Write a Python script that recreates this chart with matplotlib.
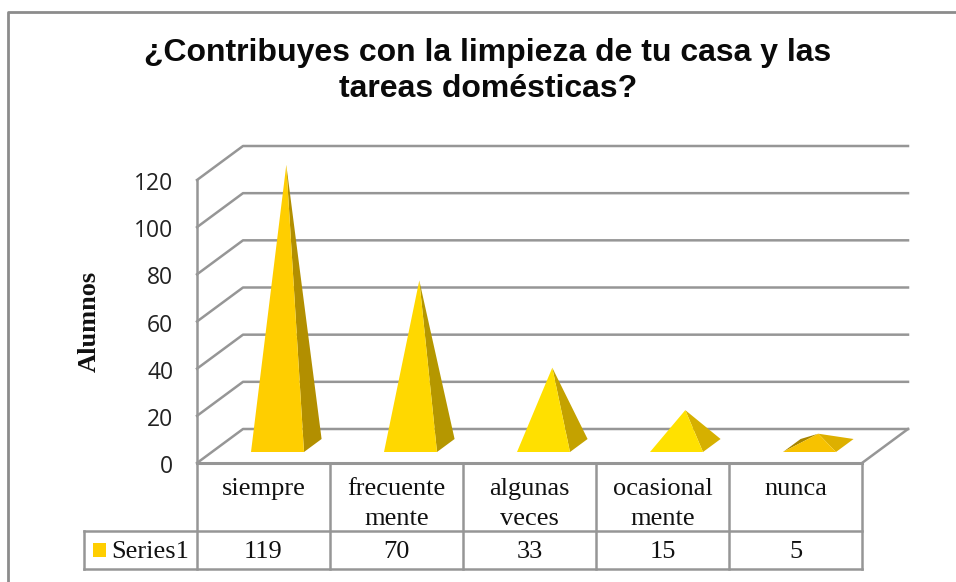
import matplotlib
matplotlib.use("Agg")
import matplotlib.pyplot as plt
from matplotlib.patches import Polygon, Rectangle
from matplotlib.lines import Line2D
from matplotlib.transforms import ScaledTranslation

title = "¿Contribuyes con la limpieza de tu casa y las\ntareas domésticas?"
categories = ["siempre", "frecuente\nmente", "algunas\nveces", "ocasional\nmente", "nunca"]
values = [119, 70, 33, 15, 5]
front_colors = ["#FFCE00", "#FFD800", "#FFE000", "#FFE100", "#F7C200"]
side_colors = ["#B28F00", "#B59700", "#C4A200", "#D6B000", "#DDB000"]
yticks = [0, 20, 40, 60, 80, 100, 120]
series_name = "Series1"
ylabel = "Alumnos"
GRID = "#969696"

W, H = 956, 582
fig = plt.figure(figsize=(W / 100, H / 100), dpi=100, facecolor="white")
L, R, B, T = 197, 862, 463, 180
ax = fig.add_axes([L / W, 1 - B / H, (R - L) / W, (B - T) / H])
ax.set_xlim(-0.5, 4.5)
ax.set_ylim(0, 120)
ax.patch.set_visible(False)
for s in ("top", "right", "bottom"):
    ax.spines[s].set_visible(False)
ax.spines["left"].set_color(GRID)
ax.spines["left"].set_linewidth(1.8)

ux = (R - L) / 5            # pixels per category
uy = (B - T) / 120          # pixels per value unit
DX, DY = 46 / ux, 34 / uy   # depth of the floor in data units

ax.set_yticks(yticks)
ax.set_yticklabels([str(v) for v in yticks], fontfamily="Open Sans", fontsize=16.5, color="#222222")
ax.tick_params(axis="y", length=0, pad=17)
down = ScaledTranslation(0, -1 / 100, fig.dpi_scale_trans)
for lab in ax.get_yticklabels():
    lab.set_transform(lab.get_transform() + down)
ax.set_xticks(range(5))
ax.set_xticklabels(categories, fontfamily="Liberation Serif", fontsize=19, color="#111111", linespacing=1.47)
ax.tick_params(axis="x", length=0, pad=10.5)
ax.set_ylabel(ylabel, fontfamily="Liberation Serif", fontweight="bold", fontsize=19, color="#111111")
ax.yaxis.set_label_coords((101 - L) / (R - L), (B - 321.5) / (B - T))


def line(xs, ys, lw=1.8):
    ax.add_line(Line2D(xs, ys, color=GRID, lw=lw, clip_on=False, solid_capstyle="projecting"))


# back wall grid and side wall
for v in yticks:
    line([-0.5, -0.5 + DX, 4.5 + DX], [v, v + DY, v + DY])
line([4.5, 4.5 + DX], [0, DY])
line([-0.5, 4.5], [0, 0], lw=2.2)

# pyramids
bw = 53 / ux
f0, f1 = 11 / 34, 24 / 34
shift = (251 + 26.5 - (L + ux / 2)) / ux
for i, v in enumerate(values):
    x0 = i - bw / 2 + shift
    x1 = x0 + bw
    yf = f0 * DY
    ox, oy = (f1 - f0) * DX, (f1 - f0) * DY
    apex = ((x0 + x1) / 2 + ox / 2, yf + oy / 2 + v)
    if v < 10:  # low pyramid: back left face shows
        ax.add_patch(Polygon([(x0, yf), (x0 + ox, yf + oy), apex], fc="#A68400", ec="none", clip_on=False, zorder=3))
    ax.add_patch(Polygon([(x1, yf), (x1 + ox, yf + oy), apex], fc=side_colors[i], ec="none", clip_on=False, zorder=3))
    ax.add_patch(Polygon([(x0, yf), (x1, yf), apex], fc=front_colors[i], ec="none", clip_on=False, zorder=4))

# data table
row1 = -(531 - B) / uy
row2 = -(569 - B) / uy
leg = -0.5 - (L - 84) / ux
for k in range(6):
    line([k - 0.5, k - 0.5], [0, row2])
line([leg, 4.5], [row1, row1])
line([leg, 4.5], [row2, row2])
line([leg, leg], [row1, row2])
ymid = (row1 + row2) / 2 - 2 / uy
for i, v in enumerate(values):
    ax.text(i, ymid, str(v), ha="center", va="center", fontfamily="Liberation Serif",
            fontsize=19, color="#111111", clip_on=False)
ax.text(-0.5 - (L - 111) / ux, ymid, series_name, ha="left", va="center",
        fontfamily="Liberation Serif", fontsize=19, color="#111111", clip_on=False)
ax.add_patch(Rectangle((-0.5 - (L - 93) / ux, -(557 - B) / uy), 13 / ux, 14 / uy,
                       fc=front_colors[0], ec="none", clip_on=False))

# outer frame and title
fig.add_artist(Line2D([8 / W, 8 / W, 1], [0, 1 - 12 / H, 1 - 12 / H], color="#8C8C8C", lw=2))
fig.text(488 / W, 1 - 71 / H, title, ha="center", va="center", fontfamily="Liberation Sans",
         fontweight="bold", fontsize=23, color="#0A0A0A", linespacing=1.29)

fig.savefig("out.png", dpi=100)
